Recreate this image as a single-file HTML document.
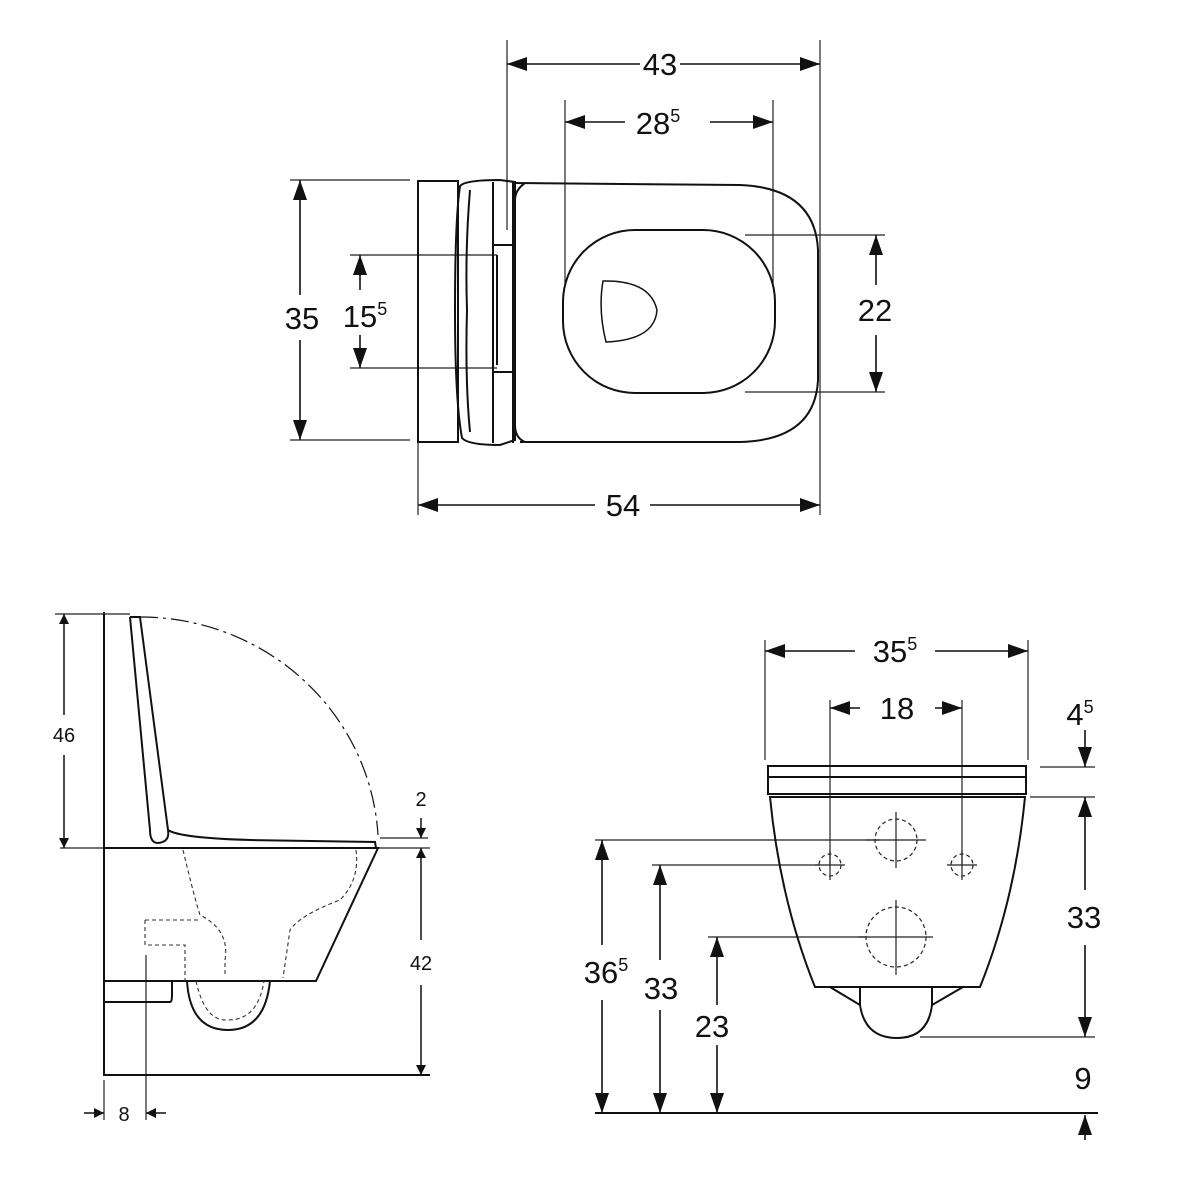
<!DOCTYPE html>
<html><head><meta charset="utf-8"><style>body{margin:0;background:#fff}svg{display:block}text{font-family:"Liberation Sans",sans-serif;fill:#111}</style></head>
<body>
<svg width="1200" height="1200" viewBox="0 0 1200 1200" xmlns="http://www.w3.org/2000/svg">
<defs>
<marker id="a" viewBox="0 0 10 10" refX="10" refY="5" markerWidth="10" markerHeight="10" markerUnits="userSpaceOnUse" orient="auto-start-reverse"><path d="M0,0 L10,5 L0,10z" fill="#111"/></marker>
<marker id="b" viewBox="0 0 20 14" refX="20" refY="7" markerWidth="20" markerHeight="14" markerUnits="userSpaceOnUse" orient="auto-start-reverse"><path d="M0,0 L20,7 L0,14z" fill="#111"/></marker>
</defs>
<g stroke="#222" stroke-width="1.2" fill="none">
<path d="M507 40V230M820 40V515M565 100V285M773 100V287M290 180H410M290 440H410M350 255H497M350 368H497M745 235H885M745 392H885M418 440V515"/>
</g>
<g stroke="#111" stroke-width="1.6" fill="none">
<path d="M507 64H640M680 64H820" marker-start="url(#b)" marker-end="url(#b)"/>
<path d="M565 122H625M710 122H773" marker-start="url(#b)" marker-end="url(#b)"/>
<path d="M300 180V295M300 340V440" marker-start="url(#b)" marker-end="url(#b)"/>
<path d="M360 255V290M360 335V368" marker-start="url(#b)" marker-end="url(#b)"/>
<path d="M876 235V285M876 335V392" marker-start="url(#b)" marker-end="url(#b)"/>
<path d="M418 505H595M650 505H820" marker-start="url(#b)" marker-end="url(#b)"/>
</g>
<g stroke="#111" stroke-width="2" fill="none">
<rect x="418" y="181" width="40" height="261"/>
<path d="M460 186 Q465 180 500 180 L515 182 L515 440 L500 445 Q468 445 462 438 Q455 400 455 310 Q455 220 460 186Z"/>
<path d="M470 190 Q465 250 467 310 Q465 380 470 432"/>
<path d="M493 182V443M513 182V443"/>
<path d="M493 245H512M493 372H512M497 255V365"/>
<path d="M515 183 L740 185 Q815 188 818 250 L818 380 Q815 440 740 442 L520 442"/>
<path d="M525 183 Q515 190 515 200 M515 425 Q515 438 525 442"/>
<rect x="563" y="230" width="212" height="163" rx="72"/>
<path d="M603 281 Q650 280 657 310 Q655 340 606 342 Q598 310 603 281Z" stroke-width="1.5"/>
</g>
<g font-size="31" text-anchor="middle">
<text x="660" y="75">43</text>
<text x="658" y="134">28<tspan font-size="18" dy="-12">5</tspan></text>
<text x="302" y="329">35</text>
<text x="365" y="327">15<tspan font-size="18" dy="-12">5</tspan></text>
<text x="875" y="321">22</text>
<text x="623" y="516">54</text>
</g>

<g stroke="#222" stroke-width="1.2" fill="none">
<path d="M55 614H130M60 848H430M380 838H428M146 955V1120M104 1080V1120"/>
</g>
<g stroke="#111" stroke-width="1.5" fill="none">
<path d="M64 614V715M64 755V848" marker-start="url(#a)" marker-end="url(#a)"/>
<path d="M421 848V940M421 985V1075" marker-start="url(#a)" marker-end="url(#a)"/>
<path d="M421 818V838" marker-end="url(#a)"/>
<path d="M84 1113H104" marker-end="url(#a)"/>
<path d="M166 1113H146" marker-end="url(#a)"/>
</g>
<g stroke="#111" stroke-width="2" fill="none">
<path d="M104 612V1075H430"/>
<path d="M104 848H378 L316 981H104"/>
<path d="M104 981V1002H170Q172 1002 172 995V981"/>
<path d="M187 981 Q190 1030 228 1030 Q265 1030 270 981"/>
<path d="M130 617H140L168 830 Q170 842 158 843 Q150 843 150 830 L130 617"/>
<path d="M168 830 Q180 838 250 840 L375 842 L376 848"/>
<path d="M140 617 A238 232 0 0 1 378 835" stroke-width="1.2" stroke-dasharray="18 5 3 5"/>
</g>
<g stroke="#333" stroke-width="1.1" fill="none" stroke-dasharray="4 3">
<path d="M183 850 Q195 900 200 915 Q230 930 225 960 L225 977"/>
<path d="M356 850 Q360 880 340 900 Q300 915 290 930 L283 978"/>
<path d="M145 920H200 M145 920V945H185V981"/>
<path d="M196 981 Q205 1022 228 1020 Q258 1020 264 981"/>
</g>
<g font-size="20" text-anchor="middle">
<text x="64" y="742">46</text>
<text x="421" y="970">42</text>
<text x="421" y="806">2</text>
<text x="124" y="1121">8</text>
</g>

<g stroke="#222" stroke-width="1.2" fill="none">
<path d="M765 640V760M1028 640V760M830 700V865M962 700V865M1040 767H1095M1030 797H1095M920 1037H1095M595 840H880M652 865H820M708 937H866"/>
</g>
<g stroke="#111" stroke-width="1.6" fill="none">
<path d="M765 651H855M935 651H1028" marker-start="url(#b)" marker-end="url(#b)"/>
<path d="M830 708H860M935 708H962" marker-start="url(#b)" marker-end="url(#b)"/>
<path d="M1085 730V767" marker-end="url(#b)"/>
<path d="M1085 797V890M1085 945V1037" marker-start="url(#b)" marker-end="url(#b)"/>
<path d="M1085 1140V1115" marker-end="url(#b)"/>
<path d="M602 840V945M602 1000V1113" marker-start="url(#b)" marker-end="url(#b)"/>
<path d="M660 865V960M660 1010V1113" marker-start="url(#b)" marker-end="url(#b)"/>
<path d="M717 937V1005M717 1045V1113" marker-start="url(#b)" marker-end="url(#b)"/>
</g>
<g stroke="#111" stroke-width="2" fill="none">
<path d="M595 1113H1098"/>
<path d="M768 766H1026V794H768Z"/>
<path d="M768 777H1026"/>
<path d="M770 797H1025 Q1015 900 980 987H815 Q780 900 770 797Z"/>
<path d="M830 987 L860 1005 M963 987 L932 1005"/>
<path d="M860 988V1005 Q865 1038 897 1038 Q928 1038 932 1005V988"/>
</g>
<g stroke="#222" stroke-width="1.2" fill="none" stroke-dasharray="4 3">
<circle cx="896" cy="840" r="21"/>
<circle cx="830" cy="865" r="11"/>
<circle cx="962" cy="865" r="11"/>
<circle cx="896" cy="937" r="30"/>
</g>
<g stroke="#222" stroke-width="1.2" fill="none">
<path d="M896 812V868M866 840H926M830 850V880M815 865H845M962 850V880M947 865H977M896 900V975M858 937H933"/>
</g>
<g font-size="31" text-anchor="middle">
<text x="895" y="662">35<tspan font-size="18" dy="-12">5</tspan></text>
<text x="897" y="719">18</text>
<text x="1080" y="725">4<tspan font-size="18" dy="-12">5</tspan></text>
<text x="1084" y="928">33</text>
<text x="1083" y="1089">9</text>
<text x="606" y="983">36<tspan font-size="18" dy="-12">5</tspan></text>
<text x="661" y="999">33</text>
<text x="712" y="1037">23</text>
</g>
</svg>
</body></html>
